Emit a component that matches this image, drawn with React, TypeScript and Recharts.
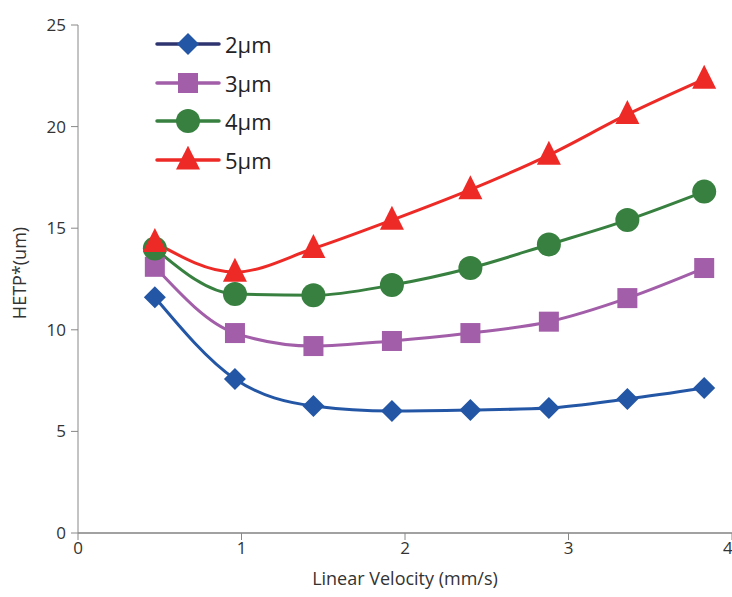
import React from "react";
import { LineChart, Line, XAxis, YAxis, Legend } from "recharts";

const velocity = [0.47, 0.96, 1.44, 1.92, 2.4, 2.88, 3.36, 3.83];
const hetp2 = [11.6, 7.58, 6.25, 6.0, 6.05, 6.15, 6.6, 7.14];
const hetp3 = [13.1, 9.84, 9.2, 9.45, 9.84, 10.4, 11.56, 13.04];
const hetp4 = [14.0, 11.76, 11.7, 12.2, 13.04, 14.2, 15.4, 16.8];
const hetp5 = [14.3, 12.84, 14.0, 15.4, 16.9, 18.6, 20.6, 22.34];
const xTicks = [0, 1, 2, 3, 4];
const yTicks = [0, 5, 10, 15, 20, 25];
const seriesNames = ["2µm", "3µm", "4µm", "5µm"];

const data = velocity.map((v, i) => ({
  v,
  s2: hetp2[i],
  s3: hetp3[i],
  s4: hetp4[i],
  s5: hetp5[i],
}));

const series = [
  { key: "s2", name: seriesNames[0], color: "#2456A6", legendLine: "#2E3470", shape: "diamond" },
  { key: "s3", name: seriesNames[1], color: "#A25EA8", legendLine: "#A25EA8", shape: "square" },
  { key: "s4", name: seriesNames[2], color: "#37803F", legendLine: "#37803F", shape: "circle" },
  { key: "s5", name: seriesNames[3], color: "#EE2A27", legendLine: "#EE2A27", shape: "triangle" },
];

function Marker({ cx, cy, shape, color }: any) {
  if (cx == null || cy == null) return null;
  if (shape === "diamond") {
    const r = 11;
    return <polygon points={`${cx},${cy - r} ${cx + r},${cy} ${cx},${cy + r} ${cx - r},${cy}`} fill={color} />;
  }
  if (shape === "square") {
    const r = 10;
    return <rect x={cx - r} y={cy - r} width={2 * r} height={2 * r} fill={color} />;
  }
  if (shape === "circle") {
    return <circle cx={cx} cy={cy} r={12} fill={color} />;
  }
  const h = 24;
  return (
    <polygon
      points={`${cx},${cy - h * 0.6} ${cx + 12},${cy + h * 0.4} ${cx - 12},${cy + h * 0.4}`}
      fill={color}
    />
  );
}

function LegendContent() {
  return (
    <div style={{ fontFamily: "'Open Sans', sans-serif" }}>
      {series.map((s) => (
        <div key={s.key} style={{ display: "flex", alignItems: "center", height: 38.5 }}>
          <svg width={70} height={28}>
            <line x1={2} y1={14} x2={64} y2={14} stroke={s.legendLine} strokeWidth={3.5} strokeLinecap="round" />
            <Marker cx={33} cy={14} shape={s.shape} color={s.color} />
          </svg>
          <span style={{ fontSize: 22, color: "#222", marginLeft: 0 }}>{s.name}</span>
        </div>
      ))}
    </div>
  );
}

export default function App() {
  const tickStyle = { fontSize: 17, fill: "#333", fontFamily: "'Open Sans', sans-serif" };
  return (
    <div style={{ position: "absolute", left: 0, top: 0, background: "#fff" }}>
      <LineChart width={732} height={597} data={data} margin={{ top: 25, right: 0, left: 0, bottom: 34 }}>
        <XAxis
          dataKey="v"
          type="number"
          domain={[0, 4]}
          ticks={xTicks}
          allowDataOverflow
          stroke="#333"
          tickLine={{ stroke: "#888" }}
          axisLine={{ stroke: "#444", strokeWidth: 1.2 }}
          tickSize={7}
          tickMargin={2}
          tick={tickStyle}
          height={30}
          label={{ value: "Linear Velocity (mm/s)", position: "insideBottom", offset: -22, style: { fontSize: 18, fill: "#333", fontFamily: "'Open Sans', sans-serif" } }}
        />
        <YAxis
          type="number"
          domain={[0, 25]}
          ticks={yTicks}
          stroke="#888"
          tickSize={7}
          tickMargin={5}
          tick={tickStyle}
          width={78}
          label={{ value: "HETP*(um)", angle: -90, position: "insideLeft", offset: 20, dy: -6, style: { fontSize: 18, fill: "#333", fontFamily: "'Open Sans', sans-serif", textAnchor: "middle" } }}
        />
        <Legend
          content={<LegendContent />}
          layout="vertical"
          verticalAlign="middle"
          align="center"
          wrapperStyle={{ position: "absolute", left: 155, top: 25, width: 140 }}
        />
        {series.map((s) => (
          <Line
            key={s.key}
            dataKey={s.key}
            name={s.name}
            type="monotone"
            stroke={s.color}
            strokeWidth={3}
            isAnimationActive={false}
            dot={(p: any) => <Marker key={`${s.key}-${p.index}`} cx={p.cx} cy={p.cy} shape={s.shape} color={s.color} />}
            activeDot={false}
          />
        ))}
      </LineChart>
    </div>
  );
}
